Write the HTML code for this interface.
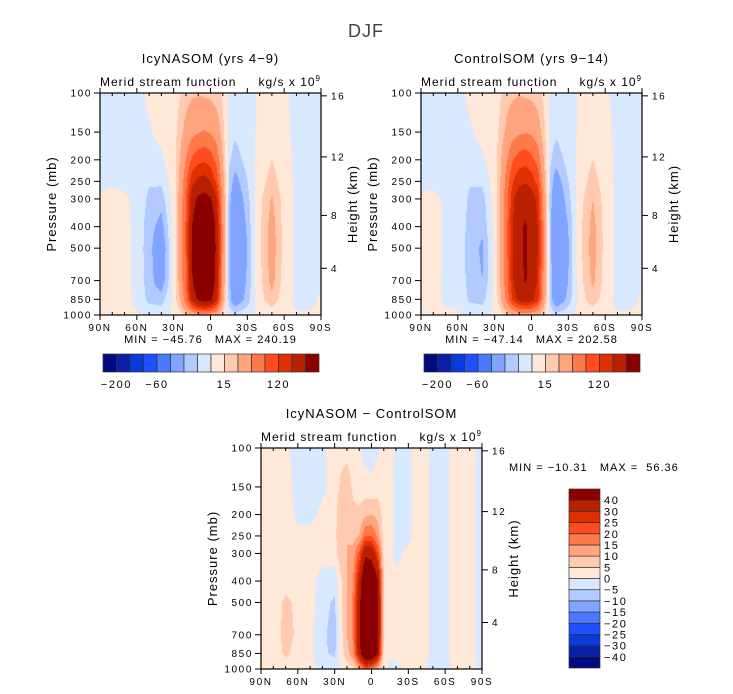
<!DOCTYPE html>
<html><head><meta charset="utf-8">
<style>
body{margin:0;background:#fff;width:733px;height:694px;overflow:hidden;position:relative;font-family:"Liberation Sans",sans-serif}
canvas{position:absolute}
svg{position:absolute;left:0;top:0}
svg text{white-space:pre;letter-spacing:1px}
svg text.tk{letter-spacing:1.6px}
</style></head>
<body>
<canvas id="c1" width="221" height="222" style="left:100px;top:93px"></canvas>
<canvas id="c2" width="221" height="222" style="left:421px;top:93px"></canvas>
<canvas id="c3" width="221" height="221" style="left:261px;top:448px"></canvas>
<svg id="ov" width="733" height="694" font-family="Liberation Sans, sans-serif">
<text x="366" y="37" font-size="18" fill="#444" text-anchor="middle">DJF</text>
</svg>
<script>
const lats=[90,80,70,60,50,40,30,25,20,15,10,5,0,-5,-10,-15,-20,-30,-40,-50,-60,-70,-80,-90];
const pres=[100,150,200,250,300,400,500,700,850,1000];
const latTicks=[90,60,30,0,-30,-60,-90];
const latTickLabels=["90N","60N","30N","0","30S","60S","90S"];
const presTicks=[100,150,200,250,300,400,500,700,850,1000];
const heightTicks=[4,8,12,16];
const heightPres=[616,356,194,103];
const palette=["#000a80","#0620a8","#0a3adc","#1e50ff","#4a78ff","#80a4ff","#b2caff","#d8e8ff","#ffe8d8","#ffcab0","#ffa47e","#ff7a4a","#ff4c1e","#e03000","#b82000","#8a0000"];
const levels1=[-200,-150,-100,-60,-40,-20,-10,0,15,30,60,90,120,150,200];
const levels3=[-40,-30,-25,-20,-15,-10,-5,0,5,10,15,20,25,30,40];
const cbLabels1=[-200,-60,15,120];
const field1=[
[-3,-3,-3,-3,2,4,6,14,22,26,28,26,24,20,12,-2,-4,-3,1,3,2,-3,-3,-2],
[-3,-3,-3,-3,-1,3,8,22,38,50,58,62,58,45,20,-4,-8,-4,2,6,3,-3,-3,-2],
[-3,-3,-3,-4,-4,-2,8,30,60,95,110,115,105,80,30,-8,-15,-6,4,15,5,-3,-3,-2],
[-3,-2,-3,-5,-9,-8,6,35,80,140,160,165,150,110,40,-12,-25,-10,7,22,6,-3,-3,-2],
[2,4,2,-3,-12,-15,5,38,90,175,210,220,205,150,50,-15,-32,-14,10,32,8,-3,-3,-2],
[3,5,3,-3,-15,-25,4,40,95,200,260,280,265,180,55,-18,-36,-18,12,38,9,-3,-3,-2],
[3,5,3,-3,-16,-32,3,40,95,200,265,285,270,185,55,-18,-38,-20,12,40,9,-3,-3,-2],
[3,5,3,-3,-15,-28,3,38,90,195,255,275,260,175,50,-16,-37,-18,10,36,8,-3,-3,-1],
[3,4,3,-2,-13,-15,3,30,75,160,210,230,215,150,40,-14,-32,-15,8,25,6,-3,-2,1],
[2,3,2,1,-2,-3,2,8,18,35,45,48,45,35,10,-3,-6,-3,2,4,2,1,1,1]];
const field2=[
[-3,-3,-3,-3,2,4,6,14,22,26,28,26,24,20,12,-2,-4,-3,1,3,2,-3,-3,-2],
[-3,-3,-3,-3,-1,3,8,20,36,48,55,58,55,42,20,-4,-8,-4,2,6,3,-3,-3,-2],
[-3,-3,-3,-4,-4,-2,8,28,58,90,105,110,100,80,30,-8,-16,-6,4,15,5,-3,-3,-2],
[-3,-3,-3,-5,-9,-8,6,32,75,120,140,145,135,110,40,-12,-27,-10,7,22,6,-3,-3,-2],
[2,3,-2,-3,-12,-14,5,35,82,145,175,185,170,140,50,-15,-34,-14,10,30,8,-3,-3,-2],
[3,4,-2,-3,-14,-18,4,36,85,150,190,205,185,150,58,-14,-38,-20,12,36,9,-3,-3,-2],
[3,4,-2,-3,-15,-22,3,36,85,150,190,206,185,150,58,-14,-39,-21,12,38,9,-3,-3,-2],
[3,4,-2,-3,-14,-20,3,34,82,148,188,204,182,146,55,-13,-38,-20,10,34,8,-3,-3,-1],
[3,3,-1,-2,-12,-14,3,28,70,130,165,175,165,130,45,-12,-33,-16,8,24,6,-3,-2,1],
[2,3,1,1,-2,-3,2,8,18,30,40,43,40,32,12,-3,-6,-3,2,4,2,1,1,1]];
const field3=[
[1,2,1,-2,-2,-1,2,3,3,2,1,-2,-2,-1,2,2,-1,-1,2,-1,-1,2,1,-1],
[1,2,2,-2,-2,-1,2,6,8,4,3,2,1,3,3,1,-1,-1,2,-1,-1,2,1,-1],
[1,2,2,-1,-1,1,3,9,10,6,6,9,10,8,3,1,-1,-1,2,-1,-1,2,1,-1],
[1,2,2,1,1,2,3,10,10,8,10,20,20,14,3,1,-1,-1,2,-1,-1,2,1,-1],
[1,2,2,2,2,2,3,8,10,12,22,38,36,24,4,1,-1,1,2,-1,-1,2,1,-1],
[1,2,3,3,2,-2,-3,4,10,15,32,55,52,42,4,1,1,1,2,-1,-1,2,1,-1],
[1,2,6,4,2,-3,-6,4,10,16,36,58,56,44,4,1,1,1,2,-1,-1,2,1,-1],
[1,2,7,4,2,-4,-7,3,10,16,38,58,56,44,4,1,1,1,2,-1,-1,2,1,-1],
[1,2,6,3,2,-4,-6,2,8,14,35,56,54,40,3,1,1,1,2,-1,-1,2,1,-1],
[1,1,2,1,1,-1,-2,1,2,4,10,20,18,8,1,-1,-1,1,1,-1,-1,1,1,-1]];

const NS="http://www.w3.org/2000/svg";
const ov=document.getElementById('ov');
function mk(tag,attrs,parent){const e=document.createElementNS(NS,tag);for(const k in attrs)e.setAttribute(k,attrs[k]);(parent||ov).appendChild(e);return e;}
function hex(c){return [parseInt(c.substr(1,2),16),parseInt(c.substr(3,2),16),parseInt(c.substr(5,2),16)];}
const pal=palette.map(hex);

function xOfLat(P,lat){return P.x0+(90-lat)/180*P.w;}
function yOfP(P,p){return P.y0+(Math.log10(p)-2)*P.h;}

function drawField(id,P,field,levels){
  const cv=document.getElementById(id),ctx=cv.getContext('2d');
  const W=cv.width,H=cv.height,img=ctx.createImageData(W,H);
  const lp=pres.map(p=>Math.log10(p));
  for(let j=0;j<H;j++){
    const l=2+(j+0.5)/H;
    let r=0;while(r<pres.length-2&&l>lp[r+1])r++;
    let fy=(l-lp[r])/(lp[r+1]-lp[r]);fy=Math.max(0,Math.min(1,fy));
    for(let i=0;i<W;i++){
      const lat=90-(i+0.5)/W*180;
      let c=0;while(c<lats.length-2&&lat<lats[c+1])c++;
      let fx=(lats[c]-lat)/(lats[c]-lats[c+1]);fx=Math.max(0,Math.min(1,fx));
      const v=(field[r][c]*(1-fx)+field[r][c+1]*fx)*(1-fy)+(field[r+1][c]*(1-fx)+field[r+1][c+1]*fx)*fy;
      let b=0;while(b<levels.length&&v>=levels[b])b++;
      const col=pal[b],k=(j*W+i)*4;
      img.data[k]=col[0];img.data[k+1]=col[1];img.data[k+2]=col[2];img.data[k+3]=255;
    }
  }
  ctx.putImageData(img,0,0);
}

function drawAxes(P,title,minmax){
  const g=mk('g',{});
  
  
  mk('rect',{x:P.x0,y:P.y0,width:P.w,height:P.h,fill:'none',stroke:'#000','stroke-width':1.2},g);
  for(let lat=90;lat>=-90;lat-=10){
    const x=xOfLat(P,lat),major=lat%30===0;
    mk('line',{x1:x,x2:x,y1:P.y0+P.h,y2:P.y0+P.h+(major?5:0)-(major?0:3),stroke:'#000'},g);
    mk('line',{x1:x,x2:x,y1:P.y0,y2:P.y0-(major?5:0)+(major?0:3),stroke:'#000'},g);
  }
  latTicks.forEach((lat,i)=>{
    const t=mk('text',{class:'tk',x:xOfLat(P,lat),y:P.y0+P.h+16,'font-size':10,'text-anchor':'middle'},g);
    t.textContent=latTickLabels[i];
  });
  presTicks.forEach(p=>{
    const y=yOfP(P,p);
    mk('line',{x1:P.x0-6,x2:P.x0,y1:y,y2:y,stroke:'#000'},g);
    const t=mk('text',{class:'tk',x:P.x0-8,y:y+3.5,'font-size':10,'text-anchor':'end'},g);t.textContent=p;
  });
  heightTicks.forEach((h,i)=>{
    const y=yOfP(P,heightPres[i]);
    mk('line',{x1:P.x0+P.w,x2:P.x0+P.w+6,y1:y,y2:y,stroke:'#000'},g);
    const t=mk('text',{class:'tk',x:P.x0+P.w+10,y:y+3.5,'font-size':10},g);t.textContent=h;
  });
  const yl=mk('text',{transform:`translate(${P.x0-44},${P.y0+P.h/2}) rotate(-90)`,'font-size':13,'text-anchor':'middle'},g);yl.textContent='Pressure (mb)';
  const yr=mk('text',{transform:`translate(${P.x0+P.w+36},${P.y0+P.h/2}) rotate(-90)`,'font-size':13,'text-anchor':'middle'},g);yr.textContent='Height (km)';
  const tt=mk('text',{x:P.x0+P.w/2,y:P.y0-30,'font-size':13,'text-anchor':'middle'},g);tt.textContent=title;
  const st=mk('text',{x:P.x0,y:P.y0-7,'font-size':12},g);st.textContent='Merid stream function';
  const un=mk('text',{x:P.x0+P.w,y:P.y0-7,'font-size':12,'text-anchor':'end'},g);
  un.innerHTML='kg/s x 10<tspan font-size="8" dy="-5">9</tspan>';
  if(minmax){const m=mk('text',{x:P.x0+P.w/2,y:P.y0+P.h+28,'font-size':11,'text-anchor':'middle'},g);m.textContent=minmax;}
}

function hBar(x0,y0,w,h,labels,levels){
  const g=mk('g',{});
  
  
  const bw=w/16;
  palette.forEach((c,i)=>mk('rect',{x:x0+i*bw,y:y0,width:bw,height:h,fill:c,stroke:'#333','stroke-width':0.7},g));
  labels.forEach(v=>{const i=levels.indexOf(v)+1;const t=mk('text',{class:'tk',x:x0+i*bw,y:y0+h+16,'font-size':11,'text-anchor':'middle'},g);t.textContent=v<0?'\u2212'+(-v):v;});
}
function vBar(x0,y0,w,h,levels){
  const g=mk('g',{});
  
  
  const bh=h/16;
  palette.forEach((c,i)=>mk('rect',{x:x0,y:y0+(15-i)*bh,width:w,height:bh,fill:c,stroke:'#333','stroke-width':0.7},g));
  levels.forEach((v,k)=>{const y=y0+(15-k)*bh;const t=mk('text',{class:'tk',x:x0+w+4,y:y+4,'font-size':11},g);t.textContent=v<0?'\u2212'+(-v):v;});
}

const P1={x0:100,y0:93,w:221,h:222,name:'icynasom'},P2={x0:421,y0:93,w:221,h:222,name:'controlsom'},P3={x0:261,y0:448,w:221,h:221,name:'difference'};
drawField('c1',P1,field1,levels1);
drawField('c2',P2,field2,levels1);
drawField('c3',P3,field3,levels3);
drawAxes(P1,'IcyNASOM (yrs 4\u22129)','MIN = \u221245.76   MAX = 240.19');
drawAxes(P2,'ControlSOM (yrs 9\u221214)','MIN = \u221247.14   MAX = 202.58');
drawAxes(P3,'IcyNASOM \u2212 ControlSOM',null);
hBar(103,354,216,18,cbLabels1,levels1);
hBar(424,354,216,18,cbLabels1,levels1);
vBar(569,489,31,179,levels3);
const mm=mk('text',{x:509,y:471,'font-size':11});


mm.textContent='MIN = \u221210.31   MAX =  56.36';
</script>
</body></html>
